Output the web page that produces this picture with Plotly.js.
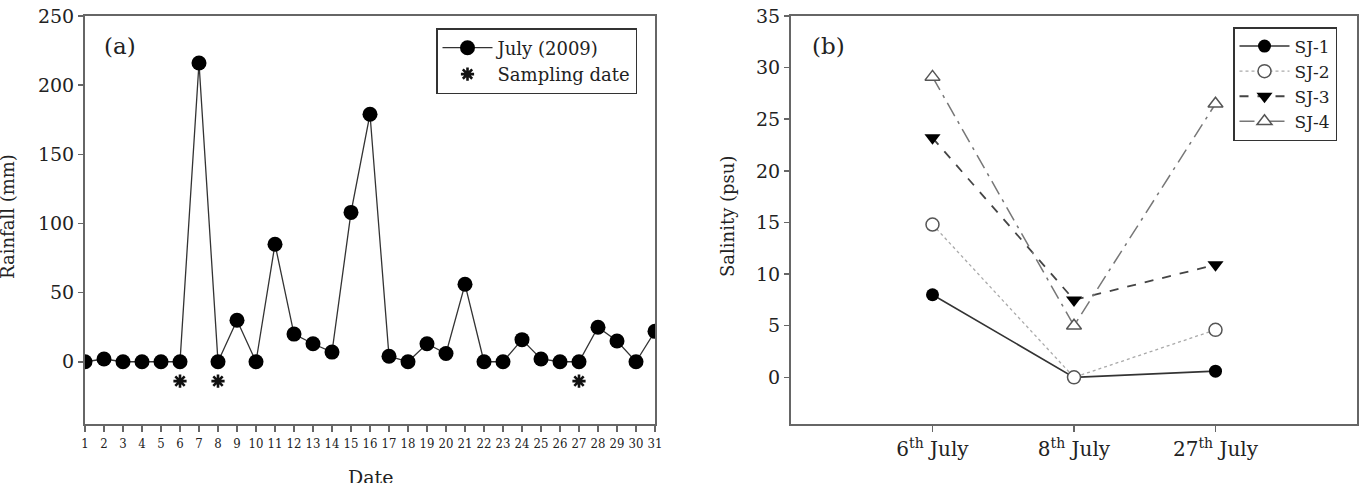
<!DOCTYPE html>
<html>
<head>
<meta charset="utf-8">
<script src="https://cdn.plot.ly/plotly-3.0.1.min.js"></script>
<style>
  html, body { margin: 0; padding: 0; background: #fff; }
  #chart { width: 1365px; height: 483px; }
</style>
</head>
<body>
<div id="chart"></div>
<script>
// (a) Daily rainfall, July 2009
const days = [1,2,3,4,5,6,7,8,9,10,11,12,13,14,15,16,17,18,19,20,21,22,23,24,25,26,27,28,29,30,31];
const rainfall = [0,2,0,0,0,0,216,0,30,0,85,20,13,7,108,179,4,0,13,6,56,0,0,16,2,0,0,25,15,0,22];
const samplingDays = [6, 8, 27];

// (b) Salinity at the four stations on the sampling dates
const sampleDates = ['6<sup>th</sup> July', '8<sup>th</sup> July', '27<sup>th</sup> July'];
const sj1 = [8.0, 0.0, 0.6];
const sj2 = [14.8, 0.0, 4.6];
const sj3 = [23.2, 7.5, 10.9];
const sj4 = [29.1, 5.0, 26.5];

const SERIF = '"DejaVu Serif", "Liberation Serif", serif';
const NARROW = '"DejaVu Serif Condensed", "DejaVu Serif", serif';
const INK = '#222';
const FRAME = '#666';

const datePos = sampleDates.map((_, i) => i);
const starLevel = -14; // asterisks sit just under the zero line

const traces = [
  {
    x: days, y: rainfall, type: 'scatter', mode: 'lines+markers',
    name: 'July (2009)', xaxis: 'x', yaxis: 'y', legend: 'legend', legendgroup: 'a1',
    line: {color: '#333', width: 1.3},
    marker: {symbol: 'circle', size: 15, color: '#000'}
  },
  {
    x: samplingDays, y: samplingDays.map(() => starLevel), type: 'scatter', mode: 'markers',
    name: 'Sampling date', xaxis: 'x', yaxis: 'y', legend: 'legend', legendgroup: 'a2',
    marker: {symbol: 'asterisk-open', size: 11, color: '#111', line: {color: '#111', width: 2.6}}
  },
  {
    x: datePos, y: sj1, type: 'scatter', mode: 'lines+markers', name: 'SJ-1',
    xaxis: 'x2', yaxis: 'y2', legend: 'legend2', legendgroup: 'b1',
    line: {color: '#333', width: 1.6, dash: 'solid'},
    marker: {symbol: 'circle', size: 13, color: '#000'}
  },
  {
    x: datePos, y: sj2, type: 'scatter', mode: 'lines+markers', name: 'SJ-2',
    xaxis: 'x2', yaxis: 'y2', legend: 'legend2', legendgroup: 'b2',
    line: {color: '#aaa', width: 1.3, dash: 'dot'},
    marker: {symbol: 'circle', size: 13, color: '#fff', line: {color: '#555', width: 1.5}}
  },
  {
    x: datePos, y: sj3, type: 'scatter', mode: 'lines+markers', name: 'SJ-3',
    xaxis: 'x2', yaxis: 'y2', legend: 'legend2', legendgroup: 'b3',
    line: {color: '#444', width: 1.8, dash: 'dash'},
    marker: {symbol: 'triangle-down', size: 14, color: '#000'}
  },
  {
    x: datePos, y: sj4, type: 'scatter', mode: 'lines+markers', name: 'SJ-4',
    xaxis: 'x2', yaxis: 'y2', legend: 'legend2', legendgroup: 'b4',
    line: {color: '#777', width: 1.5, dash: 'longdashdot'},
    marker: {symbol: 'triangle-up', size: 13, color: '#fff', line: {color: '#555', width: 1.5}}
  }
];

const W = 1365, H = 483;
const px = v => v / W;
const py = v => 1 - v / H;

const frameAxis = {
  showline: true, mirror: true, linecolor: FRAME, linewidth: 2,
  showgrid: false, zeroline: false,
  ticks: 'outside', ticklen: 5, tickwidth: 1.5, tickcolor: FRAME
};

const layout = {
  width: W, height: H,
  margin: {l: 0, r: 0, t: 0, b: 0},
  paper_bgcolor: '#fff', plot_bgcolor: '#fff',
  font: {family: SERIF, color: INK, size: 16},
  xaxis: Object.assign({}, frameAxis, {
    domain: [px(85), px(655)], range: [1, 31], anchor: 'y',
    tickmode: 'array', tickvals: days, ticktext: days.map(String),
    tickfont: {family: NARROW, size: 13, color: INK}, ticklen: 6
  }),
  yaxis: Object.assign({}, frameAxis, {
    domain: [py(424), py(16)], range: [-45, 250], anchor: 'x',
    tickmode: 'array', tickvals: [0, 50, 100, 150, 200, 250],
    tickfont: {family: SERIF, size: 19, color: INK}
  }),
  xaxis2: Object.assign({}, frameAxis, {
    domain: [px(791), px(1357)], range: [-1, 3], anchor: 'y2',
    tickmode: 'array', tickvals: datePos, ticktext: sampleDates,
    tickfont: {family: SERIF, size: 20, color: INK}, ticklen: 6
  }),
  yaxis2: Object.assign({}, frameAxis, {
    domain: [py(424), py(16)], range: [-4.52, 35], anchor: 'x2',
    tickmode: 'array', tickvals: [0, 5, 10, 15, 20, 25, 30, 35],
    tickfont: {family: SERIF, size: 19, color: INK}
  }),
  showlegend: true,
  legend: {
    x: px(436), y: py(28), xanchor: 'left', yanchor: 'top',
    bgcolor: '#fff', bordercolor: '#333', borderwidth: 1.5,
    font: {family: SERIF, size: 18, color: INK},
    traceorder: 'grouped', tracegroupgap: 0, itemwidth: 50
  },
  legend2: {
    x: px(1233), y: py(27), xanchor: 'left', yanchor: 'top',
    bgcolor: '#fff', bordercolor: '#333', borderwidth: 1.5,
    font: {family: SERIF, size: 17, color: INK},
    traceorder: 'grouped', tracegroupgap: 0, itemwidth: 50
  },
  annotations: [
    {text: '(a)', x: px(102), y: py(46), xref: 'paper', yref: 'paper',
     xanchor: 'left', yanchor: 'middle', showarrow: false, font: {family: SERIF, size: 23, color: INK}},
    {text: '(b)', x: px(810), y: py(46), xref: 'paper', yref: 'paper',
     xanchor: 'left', yanchor: 'middle', showarrow: false, font: {family: SERIF, size: 23, color: INK}},
    {text: 'Rainfall (mm)', x: px(7), y: py(217), xref: 'paper', yref: 'paper',
     xanchor: 'center', yanchor: 'middle', textangle: -90, showarrow: false,
     font: {family: SERIF, size: 18, color: INK}},
    {text: 'Date', x: px(370), y: py(464), xref: 'paper', yref: 'paper',
     xanchor: 'center', yanchor: 'top', showarrow: false,
     font: {family: SERIF, size: 19, color: INK}},
    {text: 'Salinity (psu)', x: px(727), y: py(217), xref: 'paper', yref: 'paper',
     xanchor: 'center', yanchor: 'middle', textangle: -90, showarrow: false,
     font: {family: SERIF, size: 18, color: INK}}
  ]
};

Plotly.newPlot('chart', traces, layout, {staticPlot: true, displayModeBar: false});
</script>
</body>
</html>
